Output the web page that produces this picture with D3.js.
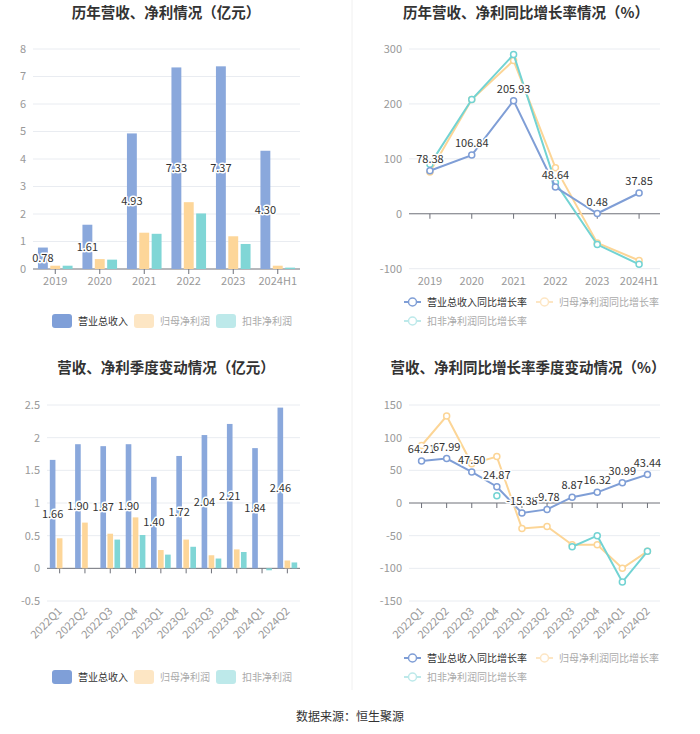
<!DOCTYPE html>
<html>
<head>
<meta charset="utf-8">
<script src="https://cdn.jsdelivr.net/npm/d3@7"></script>
<style>
  body { margin: 0; background: #fff; }
  svg { font-family: "Noto Sans CJK SC", "Noto Sans", sans-serif; }
  .grid line { stroke: #e9ecf1; }
  .tick-label { fill: #999; font-size: 11px; }
  .val-label { fill: #333; font-size: 11px; stroke: #fff; stroke-width: 3px; paint-order: stroke; stroke-linejoin: round; }
  .title { fill: #333; font-size: 14.5px; font-weight: bold; }
</style>
</head>
<body>
<svg id="chart" width="700" height="734"></svg>
<script>
// yearly data (亿元 / %)
const YEARS = ['2019', '2020', '2021', '2022', '2023', '2024H1'];
const YEAR_REVENUE = [0.78, 1.61, 4.93, 7.33, 7.37, 4.30];
const YEAR_NET_PROFIT = [0.12, 0.36, 1.32, 2.43, 1.19, 0.12];
const YEAR_DEDUCT_PROFIT = [0.12, 0.34, 1.28, 2.02, 0.91, 0.05];
const YEAR_REVENUE_YOY = [78.38, 106.84, 205.93, 48.64, 0.48, 37.85];
const YEAR_NET_PROFIT_YOY = [76, 208, 279, 84, -53, -85];
const YEAR_DEDUCT_YOY = [90, 208, 290, 57, -56, -92];

// quarterly data
const QUARTERS = ['2022Q1', '2022Q2', '2022Q3', '2022Q4', '2023Q1', '2023Q2', '2023Q3', '2023Q4', '2024Q1', '2024Q2'];
const Q_REVENUE = [1.66, 1.90, 1.87, 1.90, 1.40, 1.72, 2.04, 2.21, 1.84, 2.46];
const Q_NET_PROFIT = [0.46, 0.70, 0.53, 0.78, 0.28, 0.44, 0.20, 0.29, 0.00, 0.12];
const Q_DEDUCT_PROFIT = [null, null, 0.44, 0.51, 0.21, 0.33, 0.15, 0.25, -0.03, 0.09];
const Q_REVENUE_YOY = [64.21, 67.99, 47.50, 24.87, -15.38, -9.78, 8.87, 16.32, 30.99, 43.44];
const Q_NET_PROFIT_YOY = [88, 133, 60, 71, -39, -36, -64, -64, -100, -74];
const Q_DEDUCT_YOY = [null, null, null, 11, null, null, -67, -50, -121, -74];

const Y_TICKS_TL = [0, 1, 2, 3, 4, 5, 6, 7, 8];
const Y_TICKS_TR = [-100, 0, 100, 200, 300];
const Y_TICKS_BL = [-0.5, 0, 0.5, 1, 1.5, 2, 2.5];
const Y_TICKS_BR = [-150, -100, -50, 0, 50, 100, 150];

const BAR_NAMES = ['营业总收入', '归母净利润', '扣非净利润'];
const LINE_NAMES = ['营业总收入同比增长率', '归母净利润同比增长率', '扣非净利润同比增长率'];

const BLUE = '#8aa8dc', ORANGE = '#fdd699', TEAL = '#80d6d6';
const LINE_BLUE = '#7f9ed6', LINE_ORANGE = '#fcd596', LINE_TEAL = '#72d3d3';

const SVG = d3.select('#chart');

// faint panel divider
SVG.append('line').attr('x1', 352).attr('x2', 352).attr('y1', 0).attr('y2', 690)
    .attr('stroke', '#f0f0f0');

function title(x, y, text) {
    SVG.append('text').attr('class', 'title').attr('x', x).attr('y', y)
        .attr('text-anchor', 'middle').text(text);
}

function yAxis(y, ticks, x0, x1) {
    const g = SVG.append('g').attr('class', 'grid');
    g.selectAll('line').data(ticks.filter(t => t !== 0)).enter().append('line')
        .attr('x1', x0).attr('x2', x1)
        .attr('y1', d => y(d)).attr('y2', d => y(d));
    SVG.append('g').selectAll('text').data(ticks).enter().append('text')
        .attr('class', 'tick-label')
        .attr('x', x0 - 7).attr('y', d => y(d)).attr('dy', '0.35em')
        .attr('text-anchor', 'end').text(d => d);
    // zero axis line
    SVG.append('line').attr('x1', x0).attr('x2', x1).attr('y1', y(0)).attr('y2', y(0))
        .attr('stroke', '#6e7079');
}

function xTicks(x, cats, y0) {
    SVG.append('g').selectAll('line').data(cats).enter().append('line')
        .attr('x1', d => x(d) + x.bandwidth() / 2).attr('x2', d => x(d) + x.bandwidth() / 2)
        .attr('y1', y0).attr('y2', y0 + 5).attr('stroke', '#6e7079');
}

function xLabelsFlat(x, cats, yPos) {
    SVG.append('g').selectAll('text').data(cats).enter().append('text')
        .attr('class', 'tick-label')
        .attr('x', d => x(d) + x.bandwidth() / 2).attr('y', yPos)
        .attr('text-anchor', 'middle').text(d => d);
}

function xLabelsRotated(x, cats, yPos) {
    SVG.append('g').selectAll('text').data(cats).enter().append('text')
        .attr('class', 'tick-label')
        .attr('transform', d => `translate(${x(d) + x.bandwidth() / 2 + 3},${yPos}) rotate(-45)`)
        .attr('text-anchor', 'end').text(d => d);
}

function barChart(cats, series, x, y, labels) {
    const inner = d3.scaleBand().domain(d3.range(series.length))
        .range([0, x.bandwidth()]).paddingInner(0.2).paddingOuter(0.4);
    series.forEach((s, si) => {
        SVG.append('g').selectAll('rect')
            .data(cats.map((c, i) => ({ c, v: s.values[i] })).filter(d => d.v != null))
            .enter().append('rect')
            .attr('x', d => x(d.c) + inner(si))
            .attr('width', inner.bandwidth())
            .attr('y', d => y(Math.max(0, d.v)))
            .attr('height', d => Math.abs(y(d.v) - y(0)))
            .attr('fill', s.color);
    });
    SVG.append('g').selectAll('text')
        .data(cats.map((c, i) => ({ c, v: labels[i] })))
        .enter().append('text').attr('class', 'val-label')
        .attr('x', d => x(d.c) + inner(0) + inner.bandwidth() / 2)
        .attr('y', d => y(d.v / 2)).attr('dy', '0.35em')
        .attr('text-anchor', 'middle').text(d => d.v.toFixed(2));
}

function lineChart(cats, series, x, y, labels) {
    const cx = c => x(c) + x.bandwidth() / 2;
    series.forEach(s => {
        const pts = cats.map((c, i) => ({ c, v: s.values[i] }));
        const line = d3.line().defined(d => d.v != null).x(d => cx(d.c)).y(d => y(d.v));
        SVG.append('path').datum(pts).attr('d', line)
            .attr('fill', 'none').attr('stroke', s.color).attr('stroke-width', 2);
        SVG.append('g').selectAll('circle').data(pts.filter(d => d.v != null))
            .enter().append('circle')
            .attr('cx', d => cx(d.c)).attr('cy', d => y(d.v)).attr('r', 3)
            .attr('fill', '#fff').attr('stroke', s.color).attr('stroke-width', 1.5);
    });
    SVG.append('g').selectAll('text')
        .data(cats.map((c, i) => ({ c, v: labels[i] })))
        .enter().append('text').attr('class', 'val-label')
        .attr('x', d => cx(d.c)).attr('y', d => y(d.v) - 8)
        .attr('text-anchor', 'middle').text(d => d.v.toFixed(2));
}

function barLegend(items, x0, yc) {
    let x = x0;
    items.forEach(it => {
        SVG.append('rect').attr('x', x).attr('y', yc - 7).attr('width', 20).attr('height', 14)
            .attr('rx', 3).attr('fill', it.color);
        SVG.append('text').attr('x', x + 26).attr('y', yc).attr('dy', '0.35em')
            .attr('font-size', 10).attr('fill', it.text).text(it.name);
        x += 82;
    });
}

function lineLegend(items, positions) {
    items.forEach((it, i) => {
        const [x, yc] = positions[i];
        SVG.append('line').attr('x1', x).attr('x2', x + 17).attr('y1', yc).attr('y2', yc)
            .attr('stroke', it.color).attr('stroke-width', 2);
        SVG.append('circle').attr('cx', x + 8.5).attr('cy', yc).attr('r', 4)
            .attr('fill', '#fff').attr('stroke', it.color).attr('stroke-width', 1.5);
        SVG.append('text').attr('x', x + 23).attr('y', yc).attr('dy', '0.35em')
            .attr('font-size', 10).attr('fill', it.text).text(it.name);
    });
}

const BAR_LEGEND = [
    { name: BAR_NAMES[0], color: '#7f9fd8', text: '#333' },
    { name: BAR_NAMES[1], color: '#fde6c4', text: '#aaa' },
    { name: BAR_NAMES[2], color: '#bde9ea', text: '#aaa' }
];
const LINE_LEGEND = [
    { name: LINE_NAMES[0], color: '#7f9ed6', text: '#333' },
    { name: LINE_NAMES[1], color: '#fde6c4', text: '#aaa' },
    { name: LINE_NAMES[2], color: '#bde9ea', text: '#aaa' }
];

// ---- top-left: yearly revenue & profit
title(166, 18, '历年营收、净利情况（亿元）');
const X_TL = d3.scaleBand().domain(YEARS).range([33, 300]);
const Y_TL = d3.scaleLinear().domain([0, 8]).range([269, 49]);
yAxis(Y_TL, Y_TICKS_TL, 33, 300);
xTicks(X_TL, YEARS, 269);
barChart(YEARS, [
    { values: YEAR_REVENUE, color: BLUE },
    { values: YEAR_NET_PROFIT, color: ORANGE },
    { values: YEAR_DEDUCT_PROFIT, color: TEAL }
], X_TL, Y_TL, YEAR_REVENUE);
xLabelsFlat(X_TL, YEARS, 285);
barLegend(BAR_LEGEND, 52, 321);

// ---- top-right: yearly growth
title(526, 18, '历年营收、净利同比增长率情况（%）');
const X_TR = d3.scaleBand().domain(YEARS).range([409, 660]);
const Y_TR = d3.scaleLinear().domain([-100, 300]).range([268.7, 49]);
yAxis(Y_TR, Y_TICKS_TR, 409, 660);
xTicks(X_TR, YEARS, Y_TR(0));
lineChart(YEARS, [
    { values: YEAR_NET_PROFIT_YOY, color: LINE_ORANGE },
    { values: YEAR_DEDUCT_YOY, color: LINE_TEAL },
    { values: YEAR_REVENUE_YOY, color: LINE_BLUE }
], X_TR, Y_TR, YEAR_REVENUE_YOY);
xLabelsFlat(X_TR, YEARS, 285);
lineLegend(LINE_LEGEND, [[404, 302], [536, 302], [404, 321]]);

// ---- bottom-left: quarterly revenue & profit
title(166, 373, '营收、净利季度变动情况（亿元）');
const X_BL = d3.scaleBand().domain(QUARTERS).range([47, 300]);
const Y_BL = d3.scaleLinear().domain([-0.5, 2.5]).range([601, 405]);
yAxis(Y_BL, Y_TICKS_BL, 47, 300);
xTicks(X_BL, QUARTERS, Y_BL(0));
barChart(QUARTERS, [
    { values: Q_REVENUE, color: BLUE },
    { values: Q_NET_PROFIT, color: ORANGE },
    { values: Q_DEDUCT_PROFIT, color: TEAL }
], X_BL, Y_BL, Q_REVENUE);
xLabelsRotated(X_BL, QUARTERS, 612);
barLegend(BAR_LEGEND, 52, 677);

// ---- bottom-right: quarterly growth
title(528, 373, '营收、净利同比增长率季度变动情况（%）');
const X_BR = d3.scaleBand().domain(QUARTERS).range([409, 660]);
const Y_BR = d3.scaleLinear().domain([-150, 150]).range([601, 405]);
yAxis(Y_BR, Y_TICKS_BR, 409, 660);
xTicks(X_BR, QUARTERS, Y_BR(0));
lineChart(QUARTERS, [
    { values: Q_NET_PROFIT_YOY, color: LINE_ORANGE },
    { values: Q_DEDUCT_YOY, color: LINE_TEAL },
    { values: Q_REVENUE_YOY, color: LINE_BLUE }
], X_BR, Y_BR, Q_REVENUE_YOY);
xLabelsRotated(X_BR, QUARTERS, 612);
lineLegend(LINE_LEGEND, [[404, 658], [536, 658], [404, 677]]);

// source note
SVG.append('text').attr('x', 350).attr('y', 717).attr('dy', '0.35em')
    .attr('text-anchor', 'middle').attr('font-size', 12).attr('fill', '#333')
    .text('数据来源：恒生聚源');
</script>
</body>
</html>
